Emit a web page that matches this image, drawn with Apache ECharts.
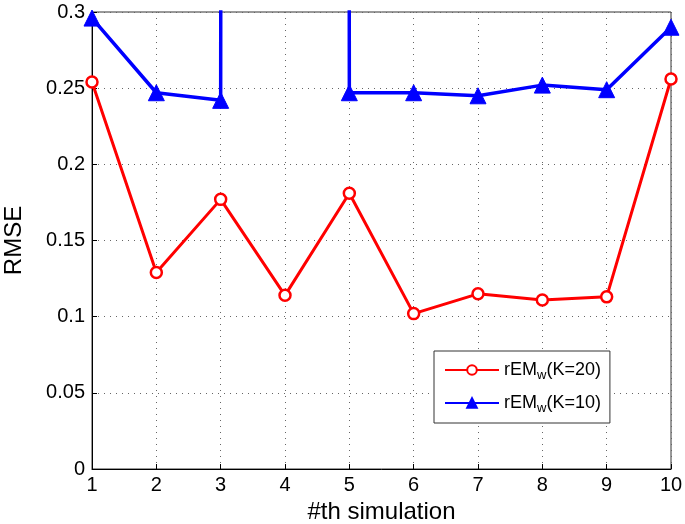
<!DOCTYPE html>
<html><head><meta charset="utf-8">
<script src="https://cdn.jsdelivr.net/npm/echarts@6/dist/echarts.min.js"></script>
<style>html,body{margin:0;padding:0;background:#fff}#c{width:685px;height:524px}</style>
</head><body><div id="c"></div>
<script>
const simulations = [1,2,3,4,5,6,7,8,9,10];
const rEMw_K20 = [0.254,0.129,0.177,0.114,0.181,0.102,0.115,0.111,0.113,0.256];
const rEMw_K10 = [0.296,0.247,0.242,50.0,0.247,0.247,0.245,0.252,0.249,0.290];
const yTicks = [0,0.05,0.1,0.15,0.2,0.25,0.3];

const font = 'Liberation Sans, Arial, Helvetica, sans-serif';
const chart = echarts.init(document.getElementById('c'));
const rich = {
  a:{fontSize:18, fontFamily:font, color:'#000'},
  b:{fontSize:13, fontFamily:font, color:'#000', padding:[11,0,0,0]}
};
chart.setOption({
  animation:false,
  grid:{left:92, top:12, right:14, bottom:55, show:true, borderColor:'#333', borderWidth:1,
    containLabel:false, outerBoundsMode:'none'},
  xAxis:{type:'value', min:1, max:10, interval:1,
    name:'#th simulation', nameLocation:'middle', nameGap:25,
    nameTextStyle:{fontSize:24, fontFamily:font, color:'#000'},
    axisLine:{show:true, onZero:false, lineStyle:{color:'#000', width:1}},
    axisTick:{show:true, inside:true, length:5, lineStyle:{color:'#000'}},
    axisLabel:{fontSize:20, fontFamily:font, color:'#000', margin:6},
    splitLine:{show:true, lineStyle:{color:'#666', type:[1,5], width:1}}
  },
  yAxis:{type:'value', min:0, max:0.3, interval:0.05,
    name:'RMSE', nameLocation:'middle', nameGap:66, nameRotate:90,
    nameTextStyle:{fontSize:24, fontFamily:font, color:'#000'},
    axisLine:{show:true, lineStyle:{color:'#000', width:1}},
    axisTick:{show:true, inside:true, length:5, lineStyle:{color:'#000'}},
    axisLabel:{fontSize:20, fontFamily:font, color:'#000', margin:7,
      formatter:v=>{const t=yTicks.find(x=>Math.abs(x-v)<1e-9); return String(t!==undefined?t:v);}},
    splitLine:{show:true, lineStyle:{color:'#666', type:[1,5], width:1}}
  },
  legend:{
    orient:'vertical', left:434, top:351,
    padding:[10,9,8,10], itemGap:12, itemWidth:54, itemHeight:12,
    backgroundColor:'#fff', borderColor:'#333', borderWidth:1,
    data:['K20','K10'],
    formatter:n=> n==='K20' ? '{a|rEM}{b|w}{a|(K=20)}' : '{a|rEM}{b|w}{a|(K=10)}',
    textStyle:{rich:rich}
  },
  series:[
    {name:'K20', type:'line', data:simulations.map((x,i)=>[x,rEMw_K20[i]]),
      symbol:'circle', symbolSize:11, showAllSymbol:true,
      lineStyle:{color:'#ff0000', width:3},
      itemStyle:{color:'#fff', borderColor:'#ff0000', borderWidth:2.5},
      clip:true, z:3},
    {name:'K10', type:'line', data:simulations.map((x,i)=>[x,rEMw_K10[i]]),
      symbol:'triangle', symbolSize:16, showAllSymbol:true,
      lineStyle:{color:'#0000ff', width:3.5},
      itemStyle:{color:'#0000ff', borderColor:'#0000ff', borderWidth:1},
      clip:true, z:3}
  ]
});
</script></body></html>
